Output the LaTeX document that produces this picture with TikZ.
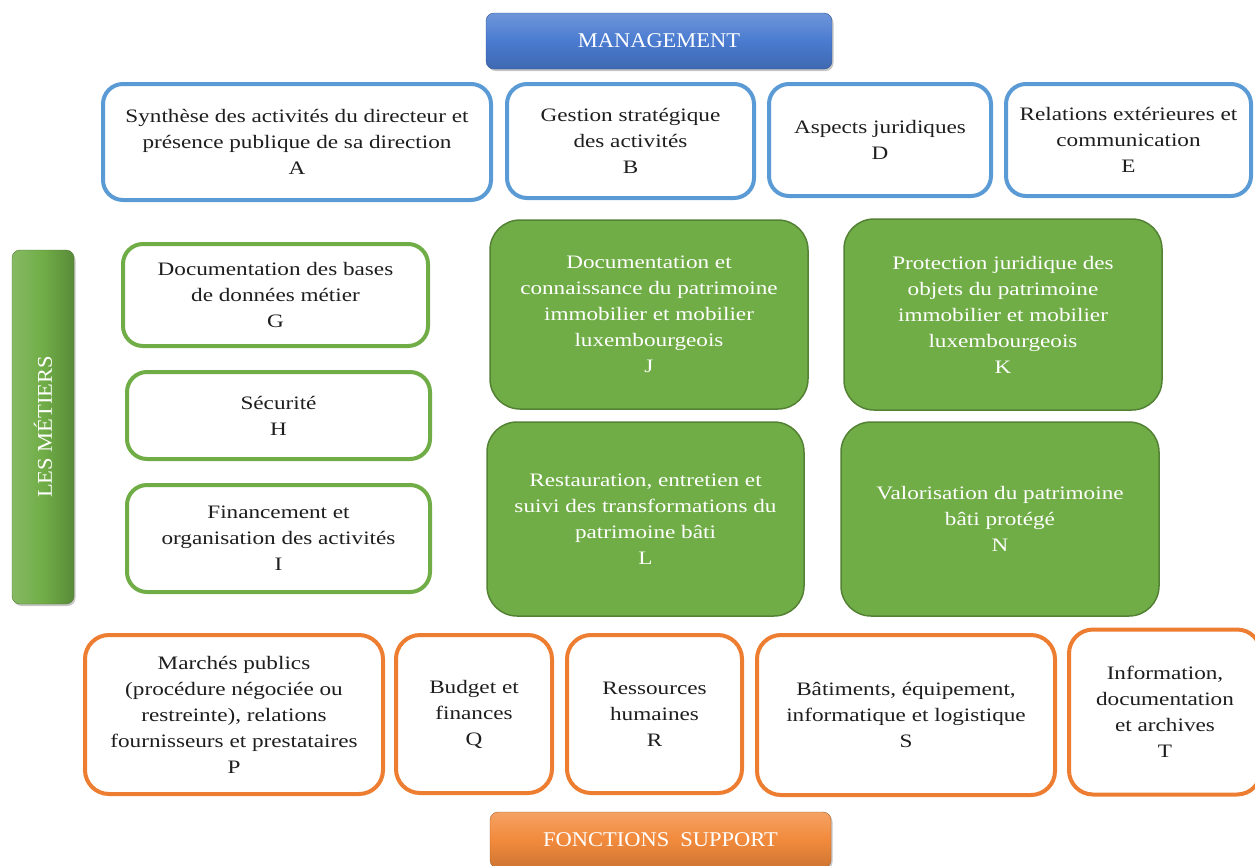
\documentclass[tikz,border=0pt]{standalone}
\usepackage{fontspec}
\setmainfont{Liberation Serif}[FakeStretch=1.22]
\newfontfamily\headfont{Liberation Serif}[FakeStretch=1.07]
\usepackage{tikz}
\usetikzlibrary{shapes,shadows}

\definecolor{blueline}{HTML}{5B9BD5}
\definecolor{greenline}{HTML}{70AD47}
\definecolor{greendark}{HTML}{548235}
\definecolor{orangeline}{HTML}{ED7D31}
\definecolor{mgmtblue}{HTML}{4A7BD0}
\definecolor{supportorange}{HTML}{F28A3C}
\definecolor{txtgray}{HTML}{1E1E1E}

\begin{document}
\begin{tikzpicture}
[x=1pt,y=-1pt]
\tikzset{
	txt/.style = {align=center, text=txtgray, font=\fontsize{19}{26}\selectfont},
	mgmtbox/.style = {txt, rectangle, rounded corners=20, draw=blueline, line width=4, fill=white},
	metierbox/.style = {txt, rectangle, rounded corners=20, draw=greenline, line width=4, fill=white},
	metierfill/.style = {txt, rectangle, rounded corners=30, draw=greendark, line width=1.5, fill=greenline, text=white},
	supportbox/.style = {txt, rectangle, rounded corners=24, draw=orangeline, line width=4, fill=white},
	headbar/.style = {rectangle, rounded corners=8, text=white, font=\headfont\fontsize{21}{24}\selectfont, drop shadow={shadow xshift=1.5pt, shadow yshift=-2pt, opacity=.45}}
}
\useasboundingbox (0,0) rectangle (1255,865);

% management
\node (mgmt) [headbar, draw=mgmtblue!70!black, top color=mgmtblue!80!white, bottom color=mgmtblue!85!black, middle color=mgmtblue, minimum width=346, minimum height=56] at (659,41) {MANAGEMENT};

\node (A) [mgmtbox, minimum width=388, minimum height=116] at (297,142) {Synthèse des activités du directeur et\\présence publique de sa direction\\A};
\node (B) [mgmtbox, minimum width=247, minimum height=114] at (630.5,141) {Gestion stratégique\\des activités\\B};
\node (D) [mgmtbox, minimum width=222, minimum height=112] at (880,140) {Aspects juridiques\\D};
\node (E) [mgmtbox, minimum width=245, minimum height=112] at (1128.5,140) {Relations extérieures et\\communication\\E};

% les metiers
\node (metiers) [headbar, draw=greenline!70!black, left color=greenline!85!white, right color=greenline!80!black, middle color=greenline, minimum width=354, minimum height=62, rotate=90] at (43,427) {LES MÉTIERS};

\node (G) [metierbox, minimum width=305, minimum height=102] at (275.5,295) {Documentation des bases\\de données métier\\G};
\node (H) [metierbox, minimum width=303, minimum height=87] at (278.5,415.5) {Sécurité\\H};
\node (I) [metierbox, minimum width=303, minimum height=107] at (278.5,538.5) {Financement et\\organisation des activités\\I};

\node (J) [metierfill, minimum width=318, minimum height=189] at (649,314.5) {Documentation et\\connaissance du patrimoine\\immobilier et mobilier\\luxembourgeois\\J};
\node (K) [metierfill, minimum width=318, minimum height=191] at (1003,314.5) {Protection juridique des\\objets du patrimoine\\immobilier et mobilier\\luxembourgeois\\K};
\node (L) [metierfill, minimum width=317, minimum height=194] at (645.5,519) {Restauration, entretien et\\suivi des transformations du\\patrimoine bâti\\L};
\node (N) [metierfill, minimum width=318, minimum height=194] at (1000,519) {Valorisation du patrimoine\\bâti protégé\\N};

% fonctions support
\node (P) [supportbox, minimum width=298, minimum height=159] at (234,714.5) {Marchés publics\\(procédure négociée ou\\restreinte), relations\\fournisseurs et prestataires\\P};
\node (Q) [supportbox, minimum width=156, minimum height=158] at (474,714) {Budget et\\finances\\Q};
\node (R) [supportbox, minimum width=175, minimum height=158] at (654.5,714) {Ressources\\humaines\\R};
\node (S) [supportbox, minimum width=298, minimum height=160] at (906,715) {Bâtiments, équipement,\\informatique et logistique\\S};
\node (T) [supportbox, minimum width=192, minimum height=165] at (1165,712) {Information,\\documentation\\et archives\\T};

\node (support) [headbar, draw=supportorange!70!black, top color=supportorange!80!white, bottom color=supportorange!85!black, middle color=supportorange, minimum width=341, minimum height=56] at (660.5,840) {FONCTIONS\ \ SUPPORT};
\end{tikzpicture}
\end{document}
